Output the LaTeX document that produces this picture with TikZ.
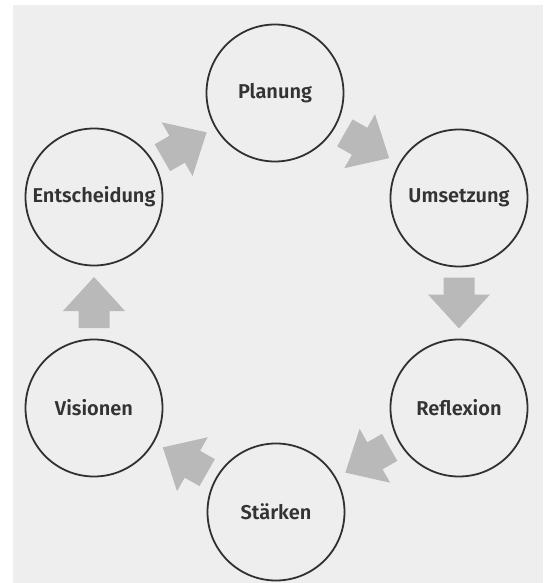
\documentclass[tikz,border=0pt]{standalone}
\usepackage{fontspec}
\setmainfont{Fira Sans}[BoldFont={Fira Sans SemiBold}]
\definecolor{bggray}{HTML}{EEEEEE}
\definecolor{arrowgray}{HTML}{B9B9B9}
\definecolor{ringgray}{HTML}{303030}
\definecolor{textgray}{HTML}{333333}
\begin{document}
\begin{tikzpicture}[x=1pt,y=-1pt,
  stage/.style={circle, draw=ringgray, line width=1.8pt, minimum size=137pt, inner sep=0pt,
    font=\fontsize{20}{24}\selectfont\bfseries, text=textgray},
  blockarrow/.pic={\fill[arrowgray] (-25.5,-15.5) -- (-8.5,-15.5) -- (-8.5,-31) -- (25.5,0)
     -- (-8.5,31) -- (-8.5,15.5) -- (-25.5,15.5) -- cycle;},
  flow/.style={pos=0.5, sloped, allow upside down}
]
\fill[white] (0,0) rectangle (543,583);
\fill[bggray] (13,5) rectangle (543,583);
\useasboundingbox (0,0) rectangle (543,583);
\node[stage] (plan) at (275,93) {Planung};
\node[stage] (ums) at (459,198) {Umsetzung};
\node[stage] (refl) at (459,408) {Reflexion};
\node[stage] (staerk) at (276,512) {Stärken};
\node[stage] (vis) at (94,408) {Visionen};
\node[stage] (ents) at (94,197) {Entscheidung};
\path (plan.center) -- pic[flow]{blockarrow} (ums.center);
\path (ums.center) -- pic[flow]{blockarrow} (refl.center);
\path (refl.center) -- pic[flow]{blockarrow} (staerk.center);
\path (staerk.center) -- pic[flow]{blockarrow} (vis.center);
\path (vis.center) -- pic[flow]{blockarrow} (ents.center);
\path (ents.center) -- pic[flow]{blockarrow} (plan.center);
\end{tikzpicture}
\end{document}
